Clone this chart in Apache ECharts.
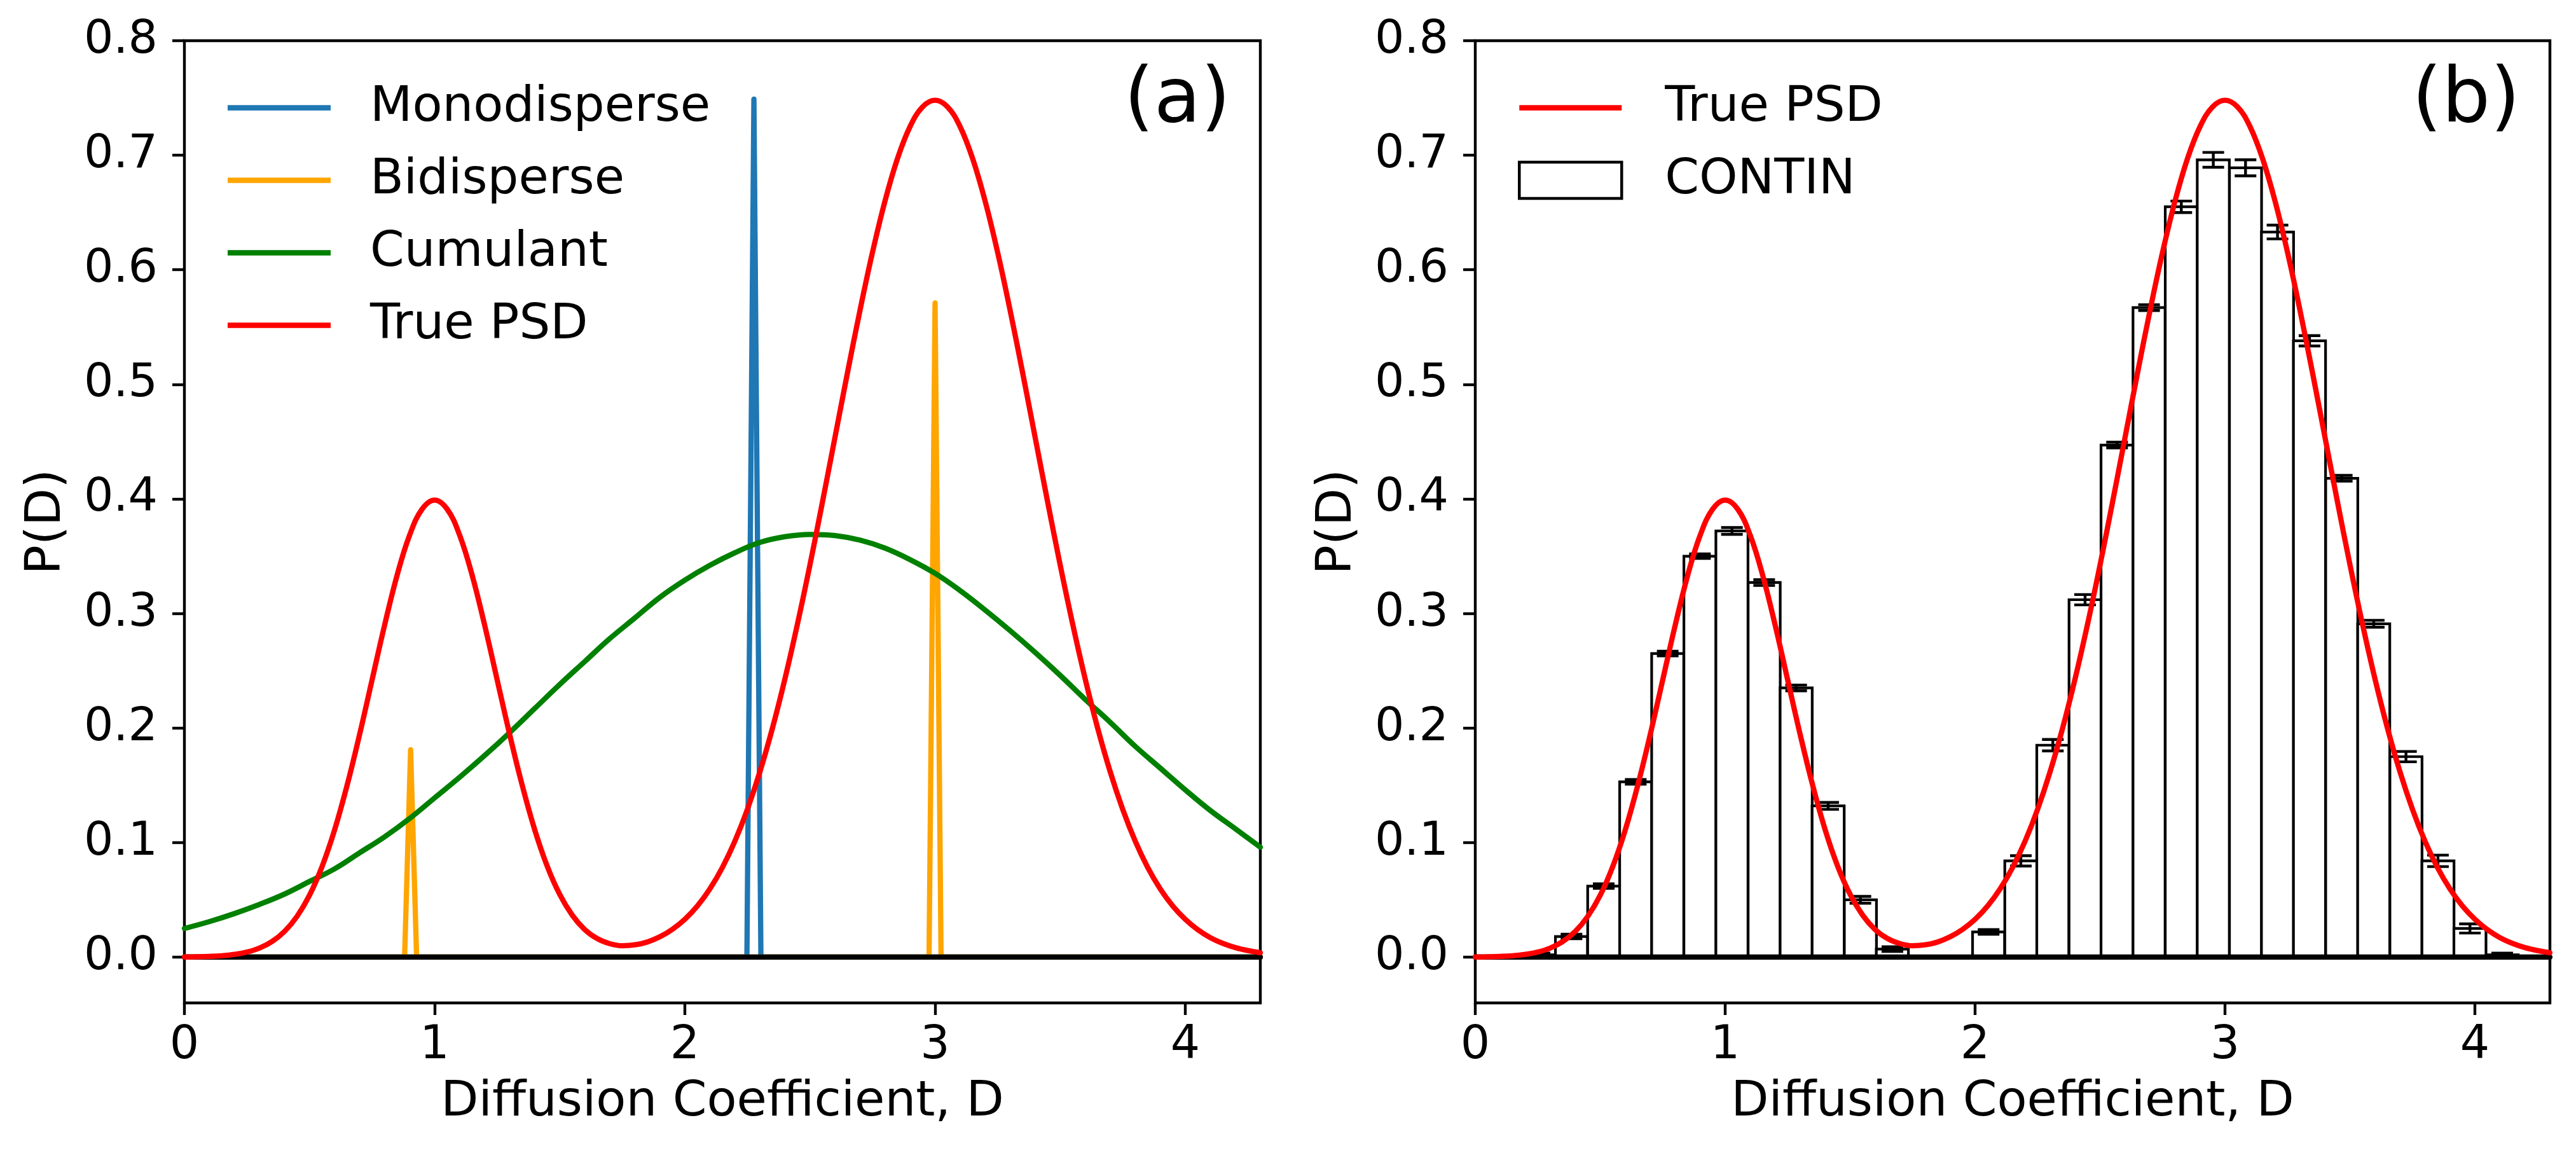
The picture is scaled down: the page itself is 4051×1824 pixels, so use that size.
<!DOCTYPE html>
<html>
<head>
<meta charset="utf-8">
<script src="https://cdn.jsdelivr.net/npm/echarts@6.0.0/dist/echarts.min.js"></script>
<style>
html, body { margin: 0; padding: 0; background: #fff; }
#chart { width: 4051px; height: 1824px; }
</style>
</head>
<body>
<div id="chart"></div>
<script>
// sample positions along D for the cumulant curve
var dGrid = [0.0, 0.1, 0.2, 0.3, 0.4, 0.5, 0.6, 0.7, 0.8, 0.9,
             1.0, 1.1, 1.2, 1.3, 1.4, 1.5, 1.6, 1.7, 1.8, 1.9,
             2.0, 2.1, 2.2, 2.3, 2.4, 2.5, 2.6, 2.7, 2.8, 2.9,
             3.0, 3.1, 3.2, 3.3, 3.4, 3.5, 3.6, 3.7, 3.8, 3.9,
             4.0, 4.1, 4.2, 4.3];

// Cumulant fit (green)
var cumulant = [0.025, 0.031, 0.038, 0.046, 0.055, 0.066, 0.077, 0.091, 0.105, 0.121,
                0.139, 0.157, 0.176, 0.196, 0.217, 0.238, 0.258, 0.278, 0.296, 0.314,
                0.329, 0.342, 0.353, 0.362, 0.367, 0.369, 0.368, 0.364, 0.357, 0.347,
                0.335, 0.320, 0.303, 0.285, 0.266, 0.246, 0.225, 0.205, 0.184, 0.165,
                0.146, 0.128, 0.112, 0.096];

// finer sample positions for the True PSD curve (narrower peaks)
var dFine = [0.00, 0.05, 0.10, 0.15, 0.20, 0.25, 0.30, 0.35, 0.40, 0.45,
             0.50, 0.55, 0.60, 0.65, 0.70, 0.75, 0.80, 0.85, 0.90, 0.95,
             1.00, 1.05, 1.10, 1.15, 1.20, 1.25, 1.30, 1.35, 1.40, 1.45,
             1.50, 1.55, 1.60, 1.65, 1.70, 1.75, 1.80, 1.85, 1.90, 1.95,
             2.00, 2.05, 2.10, 2.15, 2.20, 2.25, 2.30, 2.35, 2.40, 2.45,
             2.50, 2.55, 2.60, 2.65, 2.70, 2.75, 2.80, 2.85, 2.90, 2.95,
             3.00, 3.05, 3.10, 3.15, 3.20, 3.25, 3.30, 3.35, 3.40, 3.45,
             3.50, 3.55, 3.60, 3.65, 3.70, 3.75, 3.80, 3.85, 3.90, 3.95,
             4.00, 4.05, 4.10, 4.15, 4.20, 4.25, 4.30];

// True PSD
var truePsd = [0.0001, 0.0003, 0.0006, 0.0012, 0.0024, 0.0044, 0.0079, 0.0136, 0.0224, 0.0355,
               0.0540, 0.0790, 0.1109, 0.1498, 0.1942, 0.2420, 0.2897, 0.3333, 0.3683, 0.3911,
               0.3990, 0.3911, 0.3683, 0.3333, 0.2897, 0.2420, 0.1943, 0.1500, 0.1112, 0.0794,
               0.0547, 0.0366, 0.0240, 0.0161, 0.0117, 0.0099, 0.0107, 0.0132, 0.0177, 0.0242,
               0.0330, 0.0446, 0.0595, 0.0782, 0.1012, 0.1290, 0.1618, 0.1998, 0.2429, 0.2907,
               0.3424, 0.3973, 0.4537, 0.5101, 0.5646, 0.6153, 0.6601, 0.6972, 0.7250, 0.7422,
               0.7480, 0.7422, 0.7250, 0.6972, 0.6601, 0.6153, 0.5646, 0.5101, 0.4537, 0.3973,
               0.3424, 0.2907, 0.2429, 0.1998, 0.1618, 0.1290, 0.1012, 0.0782, 0.0595, 0.0446,
               0.0330, 0.0239, 0.0170, 0.0120, 0.0083, 0.0057, 0.0038];

// Monodisperse fit (blue spike)
var monoD = [0.0, 2.248, 2.276, 2.304, 4.3];
var monoP = [0.0, 0.0, 0.749, 0.0, 0.0];

// Bidisperse fit (orange spikes)
var biD = [0.0, 0.880, 0.904, 0.928, 2.976, 3.000, 3.024, 4.3];
var biP = [0.0, 0.0, 0.181, 0.0, 0.0, 0.571, 0.0, 0.0];

// CONTIN histogram
var binWidth = 0.1284;
var binCenters = [0.257, 0.385, 0.514, 0.642, 0.770, 0.899, 1.027, 1.156, 1.284, 1.412,
                  1.541, 1.669, 2.054, 2.183, 2.311, 2.440, 2.568, 2.696, 2.825, 2.953,
                  3.082, 3.210, 3.338, 3.467, 3.595, 3.724, 3.852, 3.980, 4.109];
var continVals = [0.002, 0.018, 0.062, 0.153, 0.265, 0.350, 0.372, 0.327, 0.235, 0.132,
                  0.050, 0.007, 0.022, 0.084, 0.185, 0.312, 0.447, 0.567, 0.655, 0.696,
                  0.689, 0.633, 0.538, 0.418, 0.291, 0.175, 0.084, 0.025, 0.002];
var continErr = [0.0015, 0.002, 0.002, 0.002, 0.002, 0.002, 0.003, 0.0025, 0.0025, 0.003,
                 0.003, 0.002, 0.002, 0.0045, 0.005, 0.0045, 0.0025, 0.0025, 0.005, 0.0065,
                 0.007, 0.006, 0.0045, 0.0025, 0.003, 0.0045, 0.005, 0.004, 0.0015];

var xTicks = [0, 1, 2, 3, 4];
var yTicks = [0.0, 0.1, 0.2, 0.3, 0.4, 0.5, 0.6, 0.7, 0.8];

var FONT = 'DejaVu Sans';

function pairs(xs, ys) {
  return xs.map(function (x, i) { return [x, ys[i]]; });
}

function xAxisFor(idx) {
  return {
    type: 'value', gridIndex: idx, min: 0, max: 4.3,
    name: 'Diffusion Coefficient, D', nameLocation: 'middle', nameGap: 118,
    nameTextStyle: { fontSize: 77, fontFamily: FONT, color: '#000' },
    axisLine: { show: false, onZero: false },
    axisTick: { show: true, length: 19, lineStyle: { color: '#000', width: 4.4 }, customValues: xTicks },
    axisLabel: { fontSize: 73, fontFamily: FONT, color: '#000', margin: 32, customValues: xTicks },
    splitLine: { show: false }
  };
}

function yAxisFor(idx) {
  return {
    type: 'value', gridIndex: idx, min: -0.04, max: 0.8,
    name: 'P(D)', nameLocation: 'middle', nameGap: 178,
    nameTextStyle: { fontSize: 77, fontFamily: FONT, color: '#000' },
    axisLine: { show: false, onZero: false },
    axisTick: { show: true, length: 19, lineStyle: { color: '#000', width: 4.4 }, customValues: yTicks },
    axisLabel: { fontSize: 73, fontFamily: FONT, color: '#000', margin: 42, customValues: yTicks,
      formatter: function (v) { return v.toFixed(1); } },
    splitLine: { show: false }
  };
}

function renderBar(params, api) {
  var c = api.value(0), v = api.value(1);
  var p0 = api.coord([c - binWidth / 2, v]);
  var p1 = api.coord([c + binWidth / 2, 0]);
  return {
    type: 'rect',
    shape: { x: p0[0], y: p0[1], width: p1[0] - p0[0], height: p1[1] - p0[1] },
    style: { fill: '#fff', stroke: '#000', lineWidth: 4.2 }
  };
}

function renderErr(params, api) {
  var c = api.value(0), v = api.value(1), e = api.value(2);
  var top = api.coord([c, v + e]);
  var bot = api.coord([c, v - e]);
  var cap = 17;
  var st = { stroke: '#000', lineWidth: 4.4 };
  return {
    type: 'group',
    children: [
      { type: 'line', shape: { x1: top[0], y1: top[1], x2: bot[0], y2: bot[1] }, style: st },
      { type: 'line', shape: { x1: top[0] - cap, y1: top[1], x2: top[0] + cap, y2: top[1] }, style: st },
      { type: 'line', shape: { x1: bot[0] - cap, y1: bot[1], x2: bot[0] + cap, y2: bot[1] }, style: st }
    ]
  };
}

function lineSeries(name, idx, data, color, z, smooth) {
  return {
    type: 'line', symbol: 'none', clip: true,
    name: name, xAxisIndex: idx, yAxisIndex: idx, data: data, z: z,
    smooth: smooth ? 0.4 : false,
    lineStyle: { color: color, width: 8.3, cap: 'round', join: 'round' },
    itemStyle: { color: color },
    emphasis: { disabled: true }
  };
}

function lineKey(name, color) {
  return { name: name, icon: 'path://M0 0H160V8.3H0Z', itemStyle: { color: color, borderWidth: 0 } };
}

var legendText = { fontSize: 77, fontFamily: FONT, color: '#000', lineHeight: 77 };

var option = {
  backgroundColor: '#fff',
  animation: false,
  title: [
    { text: '(a)', right: 2116, top: 100, padding: 0,
      textStyle: { fontSize: 120, fontWeight: 'normal', fontFamily: FONT, color: '#000' } },
    { text: '(b)', right: 88, top: 100, padding: 0,
      textStyle: { fontSize: 120, fontWeight: 'normal', fontFamily: FONT, color: '#000' } }
  ],
  legend: [
    {
      orient: 'vertical', left: 358, top: 131, padding: 0,
      itemWidth: 162, itemHeight: 57, itemGap: 37, symbolKeepAspect: true,
      selectedMode: false,
      textStyle: Object.assign({ padding: [0, 0, 0, 57] }, legendText),
      data: [
        lineKey('Monodisperse', '#1f77b4'),
        lineKey('Bidisperse', '#ffa500'),
        lineKey('Cumulant', '#008000'),
        lineKey('True PSD', '#ff0000')
      ]
    },
    {
      orient: 'vertical', left: 2387, top: 131, padding: 0,
      itemWidth: 161, itemHeight: 57, itemGap: 37, symbolKeepAspect: true,
      selectedMode: false,
      textStyle: Object.assign({ padding: [0, 0, 0, 63] }, legendText),
      data: [
        lineKey('True PSD', '#ff0000'),
        { name: 'CONTIN', icon: 'rect', itemStyle: { color: '#fff', borderColor: '#000', borderWidth: 4.5 } }
      ]
    }
  ],
  grid: [
    { left: 290, top: 64, width: 1692, height: 1513, show: true, borderColor: '#000', borderWidth: 4.4, backgroundColor: 'transparent' },
    { left: 2320, top: 64, width: 1690, height: 1513, show: true, borderColor: '#000', borderWidth: 4.4, backgroundColor: 'transparent' }
  ],
  xAxis: [xAxisFor(0), xAxisFor(1)],
  yAxis: [yAxisFor(0), yAxisFor(1)],
  series: [
    // panel (a)
    lineSeries('Monodisperse', 0, pairs(monoD, monoP), '#1f77b4', 2, false),
    lineSeries('Bidisperse', 0, pairs(biD, biP), '#ffa500', 2, false),
    lineSeries('Cumulant', 0, pairs(dGrid, cumulant), '#008000', 2, true),
    lineSeries('zeroA', 0, [[0, 0], [4.3, 0]], '#000000', 3, false),
    lineSeries('True PSD', 0, pairs(dFine, truePsd), '#ff0000', 4, true),
    // panel (b)
    {
      type: 'custom', name: 'CONTIN', xAxisIndex: 1, yAxisIndex: 1, z: 2, clip: true,
      renderItem: renderBar,
      itemStyle: { color: '#fff', borderColor: '#000', borderWidth: 4.2 },
      encode: { x: 0, y: 1 },
      data: binCenters.map(function (c, i) { return [c, continVals[i]]; })
    },
    lineSeries('zeroB', 1, [[0, 0], [4.3, 0]], '#000000', 3, false),
    {
      type: 'custom', name: 'CONTIN error', xAxisIndex: 1, yAxisIndex: 1, z: 3, clip: true,
      renderItem: renderErr,
      encode: { x: 0, y: 1 },
      data: binCenters.map(function (c, i) { return [c, continVals[i], continErr[i]]; })
    },
    lineSeries('True PSD', 1, pairs(dFine, truePsd), '#ff0000', 4, true)
  ]
};

var chart = echarts.init(document.getElementById('chart'), null, { renderer: 'canvas', devicePixelRatio: 1 });
chart.setOption(option);
</script>
</body>
</html>
